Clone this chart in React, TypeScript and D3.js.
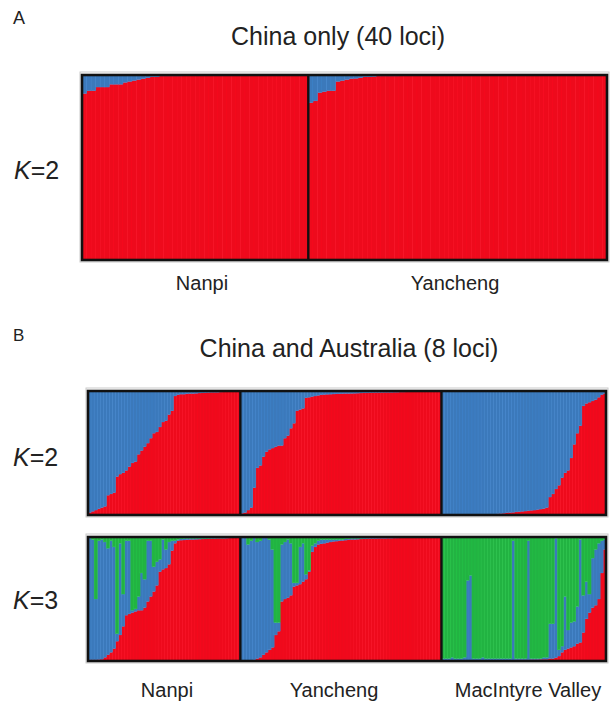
import React from "react";
import * as d3 from "d3";

// cluster colours (bottom to top in every bar)
const clusterKeys = ["red", "blue", "green"];
const clusterColors = { red: "#ee0a1c", blue: "#3b79bb", green: "#22b342" };

// ---- A: China only (40 loci), K=2 : share of the red cluster per individual
const popsA = ["Nanpi", "Yancheng"];
const chinaNanpiRed = [
  0.90, 0.915, 0.915, 0.935, 0.935, 0.935, 0.95, 0.95, 0.95, 0.96,
  0.965, 0.97, 0.975, 0.98, 0.985, 0.99, 0.99, 0.995, 0.995, 0.995,
  0.995, 0.995, 1, 1, 1, 1, 1, 1, 1, 1,
  1, 1, 1, 1, 1, 1, 1, 1, 1, 1,
  1, 1, 1, 1, 1, 1, 1, 1, 1, 1,
];
const chinaYanchengRed = [
  0.85, 0.86, 0.905, 0.91, 0.915, 0.915, 0.965, 0.97, 0.975, 0.98,
  0.982, 0.985, 0.99, 0.99, 0.992, 0.995, 0.995, 0.995, 0.995, 0.995,
  0.997, 1, 1, 1, 1, 1, 1, 1, 1, 1,
  1, 1, 1, 1, 1, 1, 1, 1, 1, 1,
  1, 1, 1, 1, 1, 1, 1, 1, 1, 1,
  1, 1, 1, 1, 1, 1, 1, 1, 1, 1,
  1, 1, 1, 1, 1, 1,
];

// ---- B: China and Australia (8 loci)
const popsB = ["Nanpi", "Yancheng", "MacIntyre Valley"];
const nanpiK2Red = [
  0.02, 0.03, 0.04, 0.05, 0.06, 0.07, 0.16, 0.17, 0.18, 0.31,
  0.33, 0.34, 0.36, 0.39, 0.42, 0.43, 0.49, 0.52, 0.55, 0.58,
  0.62, 0.66, 0.67, 0.71, 0.75, 0.76, 0.81, 0.84, 0.96, 0.97,
  0.975, 0.975, 0.978, 0.98, 0.98, 0.982, 0.984, 0.985, 0.986, 0.988,
  0.99, 0.99, 0.99, 0.992, 0.993, 0.994, 0.995, 0.996, 0.997, 0.998,
];
const yanchengK2Red = [
  0.015, 0.02, 0.04, 0.06, 0.22, 0.38, 0.40, 0.47, 0.51, 0.53,
  0.54, 0.55, 0.56, 0.56, 0.62, 0.64, 0.70, 0.74, 0.84, 0.85,
  0.86, 0.945, 0.95, 0.955, 0.96, 0.965, 0.97, 0.972, 0.974, 0.975,
  0.976, 0.977, 0.978, 0.979, 0.98, 0.98, 0.981, 0.982, 0.983, 0.984,
  0.985, 0.985, 0.986, 0.987, 0.988, 0.988, 0.989, 0.99, 0.99, 0.99,
  0.991, 0.991, 0.992, 0.992, 0.993, 0.993, 0.994, 0.994, 0.995, 0.995,
  0.995, 0.996, 0.996, 0.997, 0.997, 0.998,
];
const macintyreK2Red = [
  0.008, 0.008, 0.008, 0.008, 0.008, 0.008, 0.008, 0.008, 0.008, 0.008,
  0.008, 0.008, 0.008, 0.008, 0.008, 0.008, 0.008, 0.008, 0.01, 0.012,
  0.015, 0.018, 0.02, 0.022, 0.025, 0.027, 0.03, 0.032, 0.035, 0.038,
  0.04, 0.044, 0.048, 0.052, 0.06, 0.145, 0.17, 0.21, 0.24, 0.30,
  0.34, 0.36, 0.46, 0.57, 0.66, 0.72, 0.88, 0.90, 0.91, 0.92,
  0.93, 0.95, 0.97, 0.98,
];

// K=3 : red and green shares, blue is what is left
const nanpiK3Red = [
  0.01, 0.01, 0.01, 0.012, 0.015, 0.03, 0.05, 0.07, 0.10, 0.16,
  0.21, 0.28, 0.37, 0.38, 0.39, 0.40, 0.41, 0.41, 0.43, 0.48,
  0.52, 0.56, 0.61, 0.72, 0.74, 0.75, 0.78, 0.89, 0.95, 0.97,
  0.975, 0.976, 0.978, 0.98, 0.98, 0.982, 0.983, 0.984, 0.985, 0.986,
  0.987, 0.988, 0.99, 0.99, 0.99, 0.991, 0.992, 0.993, 0.994, 0.995,
];
const nanpiK3Green = [
  0, 0.02, 0.50, 0.03, 0.02, 0.04, 0.09, 0.03, 0.08, 0.78,
  0.05, 0.46, 0.03, 0.03, 0.59, 0.58, 0.48, 0.29, 0.34, 0.03,
  0.03, 0.24, 0.20, 0.18, 0.02, 0.10, 0.04, 0.03, 0.03, 0.02,
  0.015, 0.012, 0.01, 0.01, 0.01, 0.01, 0.01, 0.01, 0.01, 0.01,
  0.008, 0.008, 0.008, 0.008, 0.008, 0.005, 0.005, 0.005, 0.005, 0.005,
];
const yanchengK3Red = [
  0.005, 0.005, 0.005, 0.005, 0.01, 0.02, 0.03, 0.05, 0.07, 0.09,
  0.11, 0.21, 0.24, 0.48, 0.50, 0.51, 0.53, 0.60, 0.61, 0.62,
  0.64, 0.66, 0.72, 0.88, 0.92, 0.94, 0.945, 0.95, 0.955, 0.96,
  0.965, 0.967, 0.97, 0.972, 0.975, 0.978, 0.98, 0.98, 0.982, 0.984,
  0.985, 0.987, 0.988, 0.988, 0.989, 0.99, 0.99, 0.99, 0.991, 0.991,
  0.992, 0.992, 0.993, 0.993, 0.994, 0.994, 0.995, 0.995, 0.995, 0.996,
  0.996, 0.996, 0.997, 0.997, 0.998, 0.998,
];
const yanchengK3Green = [
  0, 0, 0.06, 0.03, 0, 0.04, 0.03, 0, 0, 0.02,
  0.10, 0.69, 0.69, 0.06, 0.04, 0.02, 0.05, 0.37, 0.37, 0.08,
  0.05, 0.30, 0.27, 0.07, 0.05, 0.03, 0.02, 0.02, 0.02, 0.02,
  0.02, 0.02, 0.02, 0.02, 0.015, 0.015, 0.01, 0.01, 0.01, 0.01,
  0.008, 0.008, 0.006, 0.006, 0.005, 0.005, 0.005, 0.005, 0.004, 0.004,
  0.004, 0.004, 0.003, 0.003, 0.003, 0.003, 0.003, 0.003, 0.002, 0.002,
  0.002, 0.002, 0.001, 0.001, 0.001, 0.001,
];
const macintyreK3Red = [
  0.005, 0.005, 0.005, 0.005, 0.005, 0.005, 0.005, 0.005, 0.005, 0.005,
  0.005, 0.005, 0.005, 0.005, 0.005, 0.005, 0.005, 0.005, 0.008, 0.008,
  0.008, 0.008, 0.008, 0.008, 0.01, 0.01, 0.01, 0.01, 0.01, 0.012,
  0.012, 0.012, 0.014, 0.015, 0.015, 0.02, 0.02, 0.027, 0.04, 0.07,
  0.09, 0.10, 0.11, 0.12, 0.14, 0.15, 0.23, 0.34, 0.39, 0.43,
  0.45, 0.50, 0.71, 0.90,
];
const macintyreK3Green = [
  0.98, 0.98, 0.98, 0.97, 0.98, 0.98, 0.98, 0.97, 0.35, 0.31,
  0.98, 0.98, 0.98, 0.97, 0.98, 0.98, 0.98, 0.98, 0.98, 0.98,
  0.98, 0.98, 0.98, 0.03, 0.98, 0.98, 0.98, 0.98, 0.03, 0.98,
  0.98, 0.98, 0.98, 0.97, 0.97, 0.70, 0.70, 0.01, 0.91, 0.88,
  0.48, 0.75, 0.69, 0.68, 0.56, 0.02, 0.47, 0.36, 0.46, 0.17,
  0.10, 0.05, 0.03, 0.02,
];

type Row = { pop: string; red: number; blue: number; green: number };

function k2Rows(pops: string[], reds: number[][]): Row[] {
  const rows: Row[] = [];
  reds.forEach((arr, p) =>
    arr.forEach((r) => rows.push({ pop: pops[p], red: r, blue: 1 - r, green: 0 }))
  );
  return rows;
}
function k3Rows(pops: string[], reds: number[][], greens: number[][]): Row[] {
  const rows: Row[] = [];
  reds.forEach((arr, p) =>
    arr.forEach((r, i) => {
      const g = greens[p][i];
      rows.push({ pop: pops[p], red: r, blue: Math.max(0, 1 - r - g), green: g });
    })
  );
  return rows;
}

const rowsA = k2Rows(popsA, [chinaNanpiRed, chinaYanchengRed]);
const rowsBK2 = k2Rows(popsB, [nanpiK2Red, yanchengK2Red, macintyreK2Red]);
const rowsBK3 = k3Rows(
  popsB,
  [nanpiK3Red, yanchengK3Red, macintyreK3Red],
  [nanpiK3Green, yanchengK3Green, macintyreK3Green]
);

function StructurePanel({ rows, x0, x1, y0, y1 }: { rows: Row[]; x0: number; x1: number; y0: number; y1: number }) {
  const x = d3.scaleBand<number>().domain(d3.range(rows.length)).range([x0, x1]).paddingInner(0);
  const y = d3.scaleLinear().domain([0, 1]).range([y1, y0]);
  const series = d3.stack<Row>().keys(clusterKeys)(rows);
  const bw = x.bandwidth();
  const dividers: number[] = [];
  rows.forEach((r, i) => {
    if (i > 0 && r.pop !== rows[i - 1].pop) dividers.push(x(i)!);
  });
  return (
    <g>
      <rect x={x0 - 2} y={y0 - 3} width={x1 - x0 + 4} height={y1 - y0 + 5} fill="none" stroke="#c9c9c9" strokeWidth={1} />
      {series.map((s) => (
        <g key={s.key}>
          {s.map((d, i) => {
            const h = y(d[0]) - y(d[1]);
            if (h <= 0) return null;
            const col = (clusterColors as any)[s.key];
            return (
              <rect
                key={i}
                x={x(i)}
                y={y(d[1])}
                width={bw + 0.3}
                height={h}
                fill={col}
                stroke={d3.color(col)!.brighter(0.35).toString()}
                strokeWidth={0.35}
              />
            );
          })}
        </g>
      ))}
      {dividers.map((dx, i) => (
        <line key={i} x1={dx} x2={dx} y1={y0} y2={y1} stroke="#111" strokeWidth={2.4} />
      ))}
      <rect x={x0} y={y0} width={x1 - x0} height={y1 - y0} fill="none" stroke="#111" strokeWidth={2.6} />
    </g>
  );
}

const font = "'Liberation Sans', Arial, sans-serif";

export default function App() {
  const labelsA = [
    { t: popsA[0], x: 202 },
    { t: popsA[1], x: 455 },
  ];
  const labelsB = [
    { t: popsB[0], x: 167 },
    { t: popsB[1], x: 334 },
    { t: popsB[2], x: 528 },
  ];
  return (
    <svg width={610} height={705} style={{ position: "absolute", left: 0, top: 0, background: "#fff" }} fontFamily={font}>
      <text x={13} y={24} fontSize={18} fill="#222">A</text>
      <text x={338} y={45} fontSize={25} textAnchor="middle" fill="#222">China only (40 loci)</text>
      <text x={14} y={179} fontSize={25} fill="#222">
        <tspan fontStyle="italic">K</tspan>=2
      </text>
      <StructurePanel rows={rowsA} x0={82} x1={607} y0={75} y1={260} />
      {labelsA.map((l) => (
        <text key={l.t} x={l.x} y={290} fontSize={20} textAnchor="middle" fill="#222">{l.t}</text>
      ))}

      <text x={13} y={341} fontSize={17} fill="#222">B</text>
      <text x={349} y={357} fontSize={25} textAnchor="middle" fill="#222">China and Australia (8 loci)</text>
      <text x={13} y={466} fontSize={25} fill="#222">
        <tspan fontStyle="italic">K</tspan>=2
      </text>
      <StructurePanel rows={rowsBK2} x0={88} x1={606} y0={391} y1={515} />
      <text x={13} y={609} fontSize={25} fill="#222">
        <tspan fontStyle="italic">K</tspan>=3
      </text>
      <StructurePanel rows={rowsBK3} x0={88} x1={606} y0={537} y1={661} />
      {labelsB.map((l) => (
        <text key={l.t} x={l.x} y={697} fontSize={20} textAnchor="middle" fill="#222">{l.t}</text>
      ))}
    </svg>
  );
}
